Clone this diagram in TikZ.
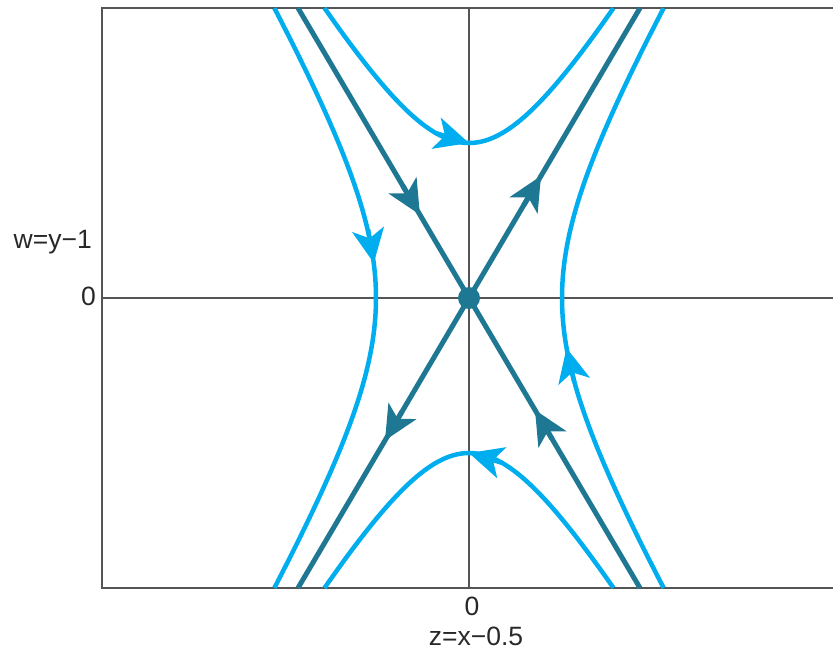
\documentclass[tikz,border=0pt]{standalone}
\usepackage{fontspec}
\setmainfont{Liberation Sans}
\usetikzlibrary{arrows.meta,calc}
\definecolor{darkc}{RGB}{31,120,147}
\definecolor{lightc}{RGB}{0,174,239}
\definecolor{axisc}{RGB}{85,85,85}
\definecolor{textc}{RGB}{40,40,40}
\begin{document}
\begin{tikzpicture}[x=1pt,y=-1pt,
  axisline/.style={draw=axisc,line width=1.5pt},
  orbit/.style={draw=lightc,line width=4.5pt},
  sepline/.style={draw=darkc,line width=5pt},
  lhead/.style={draw=lightc,line width=4.5pt,-{Stealth[length=34pt,width=32pt,inset=9pt]}},
  dhead/.style={draw=darkc,line width=5pt,-{Stealth[length=34pt,width=32pt,inset=9pt]}},
  lab/.style={font=\fontsize{26.5}{30}\selectfont,inner sep=0pt,text=textc}]
\useasboundingbox (0,0) rectangle (833,657);
% frame and axes
\draw[axisline] (833,8) -- (102,8) -- (102,588) -- (833,588);
\draw[axisline] (102,298) -- (833,298);
\draw[axisline] (469,8) -- (469,588);
% key points
\coordinate (O) at (469,298);
\coordinate (NW) at (298,8);
\coordinate (SE) at (640,588);
\coordinate (NE) at (640,8);
\coordinate (SW) at (298,588);
% hyperbolic orbits
\draw[orbit] plot[domain=-1.239:1.239,samples=80,variable=\t] ({469+91.4*sinh(\t)},{298-155*cosh(\t)});
\draw[orbit] plot[domain=-1.239:1.239,samples=80,variable=\t] ({469+91.4*sinh(\t)},{298+155*cosh(\t)});
\draw[orbit] plot[domain=-1.369:1.369,samples=80,variable=\t] ({469-93*cosh(\t)},{298-157.7*sinh(\t)});
\draw[orbit] plot[domain=-1.369:1.369,samples=80,variable=\t] ({469+93*cosh(\t)},{298-157.7*sinh(\t)});
% separatrices
\draw[sepline] (NW) -- (SE);
\draw[sepline] (NE) -- (SW);
% arrowheads on orbits
\draw[lhead] (436,133.2) -- (469,143);
\draw[lhead] (502,462.8) -- (469,453);
\draw[lhead] (368,229) -- (373.8,263);
\draw[lhead] (574.3,382) -- (566.5,348);
% arrowheads on separatrices
\draw[dhead] ($(O)!0.388!(NW)$) -- ($(O)!0.287!(NW)$);
\draw[dhead] ($(O)!0.487!(SE)$) -- ($(O)!0.386!(SE)$);
\draw[dhead] ($(O)!0.320!(NE)$) -- ($(O)!0.421!(NE)$);
\draw[dhead] ($(O)!0.390!(SW)$) -- ($(O)!0.491!(SW)$);
% equilibrium
\fill[darkc] (O) circle (11pt);
% labels
\node[lab,anchor=base east] (wlab) at (92,248) {w=y−1};
\node[lab,anchor=base east] (wzero) at (96,305) {0};
\node[lab,anchor=base] (zzero) at (472,615) {0};
\node[lab,anchor=base] (zlab) at (476,645) {z=x−0.5};
\end{tikzpicture}
\end{document}
